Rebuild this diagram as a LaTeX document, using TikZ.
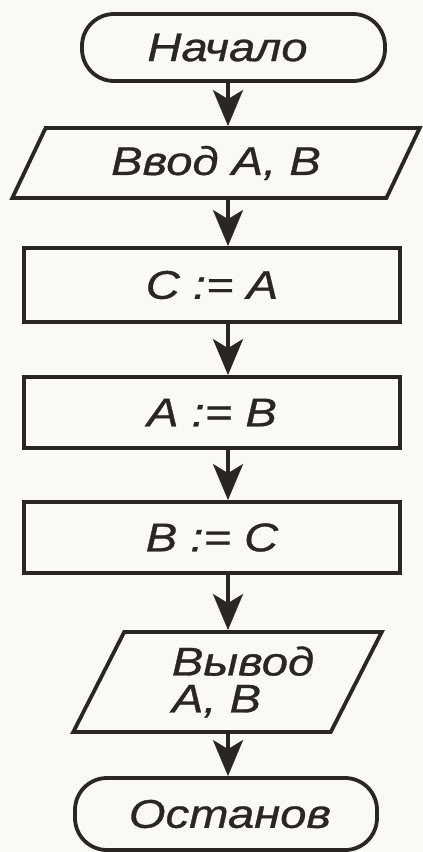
\documentclass[tikz,border=0pt]{standalone}
\usepackage{fontspec}
\newfontfamily\flowfont[FakeStretch=1.18,FakeBold=0.8]{Liberation Sans}
\usetikzlibrary{shapes.geometric,arrows.meta}
\definecolor{ink}{HTML}{2B2622}
\definecolor{paper}{HTML}{FBF9F3}
\begin{document}
\begin{tikzpicture}[x=1pt,y=-1pt,
  base/.style={draw=ink, line width=3.8pt, text=ink, font=\flowfont\itshape\fontsize{40}{36}\selectfont, inner sep=0pt},
  term/.style={base, rectangle, rounded corners=32pt},
  io/.style={base, trapezium, trapezium left angle=59, trapezium right angle=121, trapezium stretches=true},
  proc/.style={base, rectangle, minimum width=376pt},
  arr/.style={draw=ink, line width=3.8pt, -{Stealth[length=36pt,width=30pt,inset=9pt]}},
]
\fill[paper] (0,0) rectangle (423,852);
\useasboundingbox (0,0) rectangle (423,852);
\coordinate (spine) at (228,0);

\node[term, minimum width=303pt, minimum height=67pt] (start) at (233.5,47.5) {\hspace*{-12pt}Начало};
\node[io, minimum width=408pt, minimum height=70pt] (in) at (216,163) {Ввод А, В};
\node[proc, minimum height=74pt] (p1) at (212,285) {C := A};
\node[proc, minimum height=71pt] (p2) at (212,412.5) {A := B};
\node[proc, minimum height=71pt] (p3) at (212,537.5) {B := C};
\node[io, minimum width=309pt, minimum height=100pt, align=left] (out) at (227.5,682) {\raisebox{-4pt}{\hspace*{31pt}Вывод}\\\raisebox{-5pt}{\hspace*{31pt}A, B}};
\node[term, minimum width=302pt, minimum height=72pt] (stop) at (226,814) {\hspace*{8pt}Останов};

\draw[arr] (start.south -| spine) -- (in.north -| spine);
\draw[arr] (in.south -| spine) -- (p1.north -| spine);
\draw[arr] (p1.south -| spine) -- (p2.north -| spine);
\draw[arr] (p2.south -| spine) -- (p3.north -| spine);
\draw[arr] (p3.south -| spine) -- (out.north -| spine);
\draw[arr] (out.south -| spine) -- (stop.north -| spine);
\end{tikzpicture}
\end{document}
